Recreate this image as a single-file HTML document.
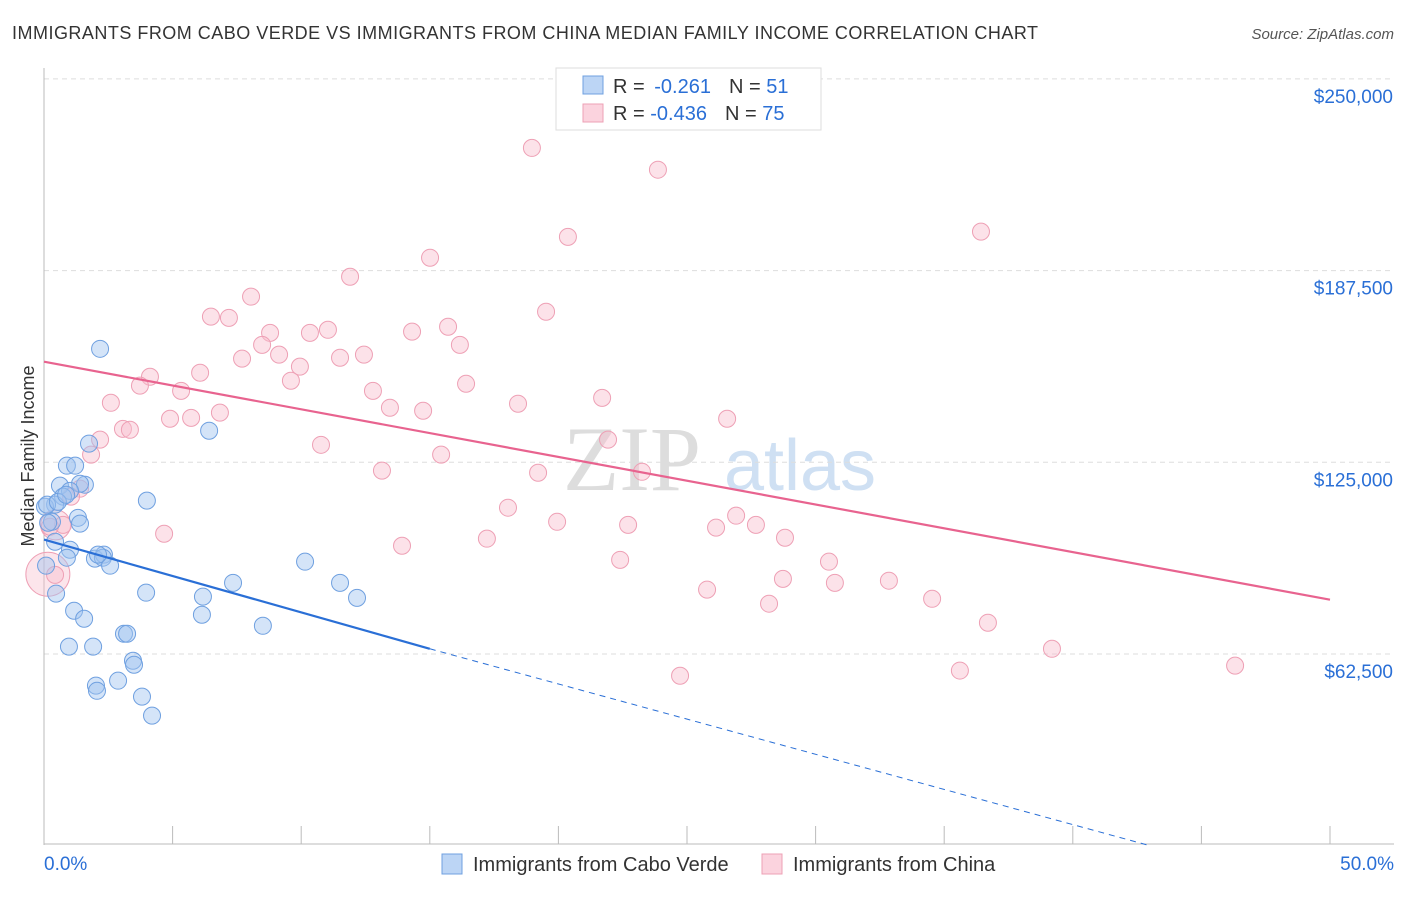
<!DOCTYPE html>
<html><head><meta charset="utf-8"><style>
body{margin:0;background:#fff;font-family:"Liberation Sans",sans-serif;}
</style></head><body>
<svg id="c" width="1406" height="892" xmlns="http://www.w3.org/2000/svg" font-family="Liberation Sans, sans-serif">
<text x="12" y="39" font-size="18" fill="#333" textLength="1026" lengthAdjust="spacing">IMMIGRANTS FROM CABO VERDE VS IMMIGRANTS FROM CHINA MEDIAN FAMILY INCOME CORRELATION CHART</text>
<text x="1394" y="39" font-size="15" fill="#555" text-anchor="end" font-style="italic">Source: ZipAtlas.com</text>
<text x="34" y="456" font-size="18" fill="#333" text-anchor="middle" transform="rotate(-90 34 456)">Median Family Income</text>
<g><text x="632" y="490" font-size="92" fill="#ddd" text-anchor="middle" font-family="Liberation Serif, serif">ZIP</text><text x="800" y="490" font-size="72" fill="#cfe0f3" text-anchor="middle">atlas</text></g>
<g id="grid"></g><g id="pts"></g><g id="lines"></g>
<g>
<rect x="556" y="68" width="265" height="62" fill="#fff" stroke="#ddd"/>
<rect x="583" y="76" width="20" height="18" fill="#bcd5f5" stroke="#6fa0e0"/>
<text x="613" y="93" font-size="20" fill="#333">R = <tspan dx="4" fill="#2a6fd6">-0.261</tspan><tspan dx="18">N = </tspan><tspan fill="#2a6fd6">51</tspan></text>
<rect x="583" y="104" width="20" height="18" fill="#fbd3de" stroke="#eea0b5"/>
<text x="613" y="120" font-size="20" fill="#333">R = <tspan fill="#2a6fd6">-0.436</tspan><tspan dx="18">N = </tspan><tspan fill="#2a6fd6">75</tspan></text>
</g>
<g>
<rect x="442" y="854" width="20" height="20" fill="#bcd5f5" stroke="#6fa0e0"/>
<text x="473" y="871" font-size="20" fill="#333">Immigrants from Cabo Verde</text>
<rect x="762" y="854" width="20" height="20" fill="#fbd3de" stroke="#eea0b5"/>
<text x="793" y="871" font-size="20" fill="#333">Immigrants from China</text>
</g>
<text x="44" y="870" font-size="19" fill="#2a6fd6">0.0%</text>
<text x="1394" y="870" font-size="19" fill="#2a6fd6" text-anchor="end">50.0%</text>
</svg>
<script>
const yTicks=[62500,125000,187500,250000];
const yTickLabels=["$62,500","$125,000","$187,500","$250,000"];
const blueX=[2.18,6.42,0.89,1.21,1.75,0.62,1.59,1.40,1.01,0.74,0.43,0.04,4.00,1.32,1.40,0.31,0.43,1.01,0.89,1.98,2.33,2.29,2.57,0.08,0.47,3.97,6.18,7.35,10.15,11.51,12.17,1.17,1.56,6.14,8.51,3.11,3.23,0.97,1.91,3.46,3.50,2.88,2.02,2.06,3.81,4.20,0.12,0.54,0.16,0.86,2.10];
const blueY=[162.0,135.3,123.9,123.9,131.1,117.4,117.7,118.0,115.7,113.8,111.2,110.5,112.5,106.9,105.0,105.6,99.1,96.5,93.9,93.6,94.9,93.9,91.3,91.3,82.2,82.5,81.2,85.7,92.6,85.7,80.8,76.6,74.0,75.3,71.7,69.1,69.1,64.9,64.9,60.3,59.0,53.8,52.2,50.5,48.6,42.4,111.2,112.1,105.3,114.4,94.9];
const pinkX=[18.97,23.87,36.43,20.37,15.01,11.90,8.05,19.52,6.49,7.19,15.71,8.79,10.34,11.04,14.31,8.48,16.17,7.70,11.51,12.44,9.14,9.95,6.07,4.12,9.60,3.73,5.33,16.41,12.79,21.70,2.60,13.45,18.43,14.74,6.84,4.90,5.72,26.56,3.07,3.34,2.18,21.93,10.77,1.83,15.44,13.14,19.21,23.25,1.40,1.05,18.04,19.95,26.91,22.71,26.13,27.68,0.74,0.23,4.67,17.22,28.81,13.92,22.40,30.52,0.43,28.73,30.75,32.85,25.78,34.53,28.19,36.70,39.19,24.73,35.61,46.31];
const pinkY=[227.5,220.4,200.2,198.5,191.7,185.5,179.0,174.1,172.5,172.1,169.2,167.2,167.2,168.2,167.6,163.3,163.3,158.8,159.1,160.1,160.1,156.2,154.2,152.9,151.6,150.0,148.3,150.6,148.3,146.0,144.4,142.8,144.1,141.8,141.2,139.2,139.5,139.2,135.9,135.6,132.4,132.4,130.7,127.5,127.5,122.3,121.6,121.9,116.4,113.8,110.2,105.6,107.6,104.6,103.7,104.6,104.6,104.0,101.7,100.1,100.4,97.8,93.2,92.6,88.3,87.0,85.7,86.4,83.5,80.5,78.9,72.7,64.2,55.4,57.1,58.7];
const pinkBigX=[0.15,0.45];
const pinkBigY=[88.5,104.6];
const blueTrend=[[0,99.8],[15,64.2],[43,0]];
const pinkTrend=[[0,157.8],[50,80.2]];
const NS="http://www.w3.org/2000/svg";
const X=p=>44+p*25.72;
const Y=v=>845.7-v*1000/62500*191.7;
function mk(t,a,par){const e=document.createElementNS(NS,t);for(const k in a)e.setAttribute(k,a[k]);document.getElementById(par).appendChild(e);return e;}
yTicks.forEach((t,i)=>{
 const l=mk('line',{x1:44,x2:1394,y1:Y(t/1000),y2:Y(t/1000),stroke:'#ddd','stroke-dasharray':'5,4'},'grid');
 
 
 const tx=mk('text',{x:1393,y:Y(t/1000)+24,'font-size':19,fill:'#2a6fd6','text-anchor':'end'},'grid');tx.textContent=yTickLabels[i];
 
 
});
const ax=mk('line',{x1:44,x2:44,y1:68,y2:845,stroke:'#bbb'},'grid');


const bx=mk('line',{x1:44,x2:1394,y1:844,y2:844,stroke:'#bbb'},'grid');


for(let i=0;i<=10;i++){const t=mk('line',{x1:X(i*5),x2:X(i*5),y1:826,y2:844,stroke:'#bbb'},'grid');
 
 }
pinkBigX.forEach((x,i)=>{const c=mk('circle',{cx:X(x),cy:Y(pinkBigY[i]),r:i?15:22,fill:'rgba(248,190,206,0.4)',stroke:'#eea0b5','stroke-width':1},'pts');
 
 });
pinkX.forEach((x,i)=>{const c=mk('circle',{cx:X(x),cy:Y(pinkY[i]),r:8.5,fill:'rgba(248,190,206,0.45)',stroke:'#eea0b5','stroke-width':1},'pts');
 
 });
blueX.forEach((x,i)=>{const c=mk('circle',{cx:X(x),cy:Y(blueY[i]),r:8.5,fill:'rgba(160,196,240,0.45)',stroke:'#6fa0e0','stroke-width':1},'pts');
 
 });
const b1=mk('line',{x1:X(blueTrend[0][0]),y1:Y(blueTrend[0][1]),x2:X(blueTrend[1][0]),y2:Y(blueTrend[1][1]),stroke:'#2a6fd6','stroke-width':2.2},'lines');


const b2=mk('line',{x1:X(blueTrend[1][0]),y1:Y(blueTrend[1][1]),x2:X(blueTrend[2][0]),y2:Y(blueTrend[2][1]),stroke:'#2a6fd6','stroke-width':1,'stroke-dasharray':'6,5'},'lines');


const p1=mk('line',{x1:X(pinkTrend[0][0]),y1:Y(pinkTrend[0][1]),x2:X(pinkTrend[1][0]),y2:Y(pinkTrend[1][1]),stroke:'#e8638f','stroke-width':2.2},'lines');


</script>
</body></html>
